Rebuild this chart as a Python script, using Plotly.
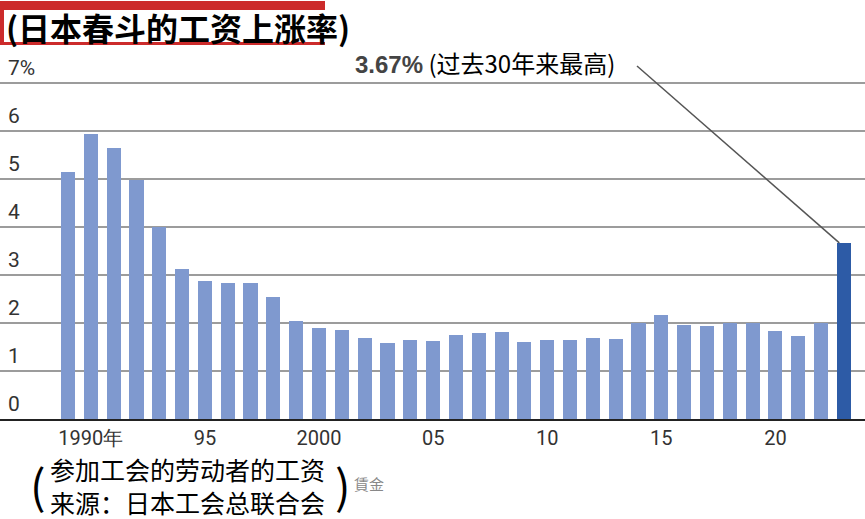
import plotly.graph_objects as go

# Shunto wage increase rate
years = list(range(1989, 2024))
rates = [5.14, 5.94, 5.65, 4.98, 4.0, 3.13, 2.87, 2.84, 2.84, 2.55,
         2.05, 1.89, 1.86, 1.68, 1.58, 1.64, 1.62, 1.75, 1.80, 1.82,
         1.61, 1.64, 1.64, 1.69, 1.66, 2.00, 2.17, 1.95, 1.93, 2.00,
         2.00, 1.84, 1.73, 2.01, 3.67]
tick_years = [1990, 1995, 2000, 2005, 2010, 2015, 2020]
tick_text = ['1990年', '95', '2000', '05', '10', '15', '20']
y_ticks = [0, 1, 2, 3, 4, 5, 6, 7]

W, H = 865, 519
top, base = 40, 419          # plot area in pixels
px_per_unit = 48
x_lo = years[0] - 68 / 22.82
x_hi = x_lo + W / 22.82


def py(p):
    # pixel row -> paper y
    return (base - p) / (base - top)


light = '#7f99cf'
dark = '#2d5ba6'
colors = [light] * (len(years) - 1) + [dark]

fig = go.Figure(go.Bar(x=years, y=rates, marker_color=colors,
                       marker_line_width=0, width=0.62))

narrow = 'Roboto, sans-serif'
cjk = 'Noto Sans CJK SC, sans-serif'

annotations = []
for v in y_ticks:
    annotations.append(dict(x=0.007, xref='paper', y=v, yref='y', xanchor='left',
                            yanchor='bottom', yshift=1, showarrow=False,
                            text='7%' if v == 7 else str(v),
                            font=dict(family=narrow, size=21, color='#333')))

annotations += [
    dict(x=4 / W, xref='paper', y=py(27), yref='paper', xanchor='left', yanchor='middle',
         showarrow=False, text='(日本春斗的工资上涨率)',
         font=dict(family=cjk, size=32, color='#000', weight='bold')),
    dict(x=353 / W, xref='paper', y=py(62), yref='paper', xanchor='left', yanchor='middle',
         showarrow=False,
         text="<b><span style='font-family:Arial;color:#444'>3.67%</span></b> (过去30年来最高)",
         font=dict(family=cjk, size=24, color='#000')),
    dict(x=48 / W, xref='paper', y=py(485), yref='paper', xanchor='left', yanchor='middle',
         showarrow=False, align='left',
         text='参加工会的劳动者的工资<br>来源：日本工会总联合会',
         font=dict(family=cjk, size=25, color='#000')),
    dict(x=28 / W, xref='paper', y=py(484), yref='paper', xanchor='left', yanchor='middle',
         showarrow=False, text='(', font=dict(family=cjk, size=46, color='#000')),
    dict(x=333 / W, xref='paper', y=py(484), yref='paper', xanchor='left', yanchor='middle',
         showarrow=False, text=')', font=dict(family=cjk, size=46, color='#000')),
    dict(x=352 / W, xref='paper', y=py(483), yref='paper', xanchor='left', yanchor='middle',
         showarrow=False, text='賃金', font=dict(family=cjk, size=15, color='#888')),
]

shapes = [
    dict(type='rect', xref='paper', yref='paper', x0=0, x1=325 / W, y0=py(45), y1=py(1),
         fillcolor='#cc2b2b', line_width=0, layer='above'),
    dict(type='rect', xref='paper', yref='paper', x0=4 / W, x1=352 / W, y0=py(42), y1=py(10),
         fillcolor='white', line_width=0, layer='above'),
    dict(type='line', xref='x', yref='y', x0=x_lo + 637 / 22.82, y0=(base - 66) / px_per_unit,
         x1=years[-1] - 0.2, y1=rates[-1], line=dict(color='#555', width=1.5)),
]

fig.update_layout(
    width=W, height=H,
    margin=dict(l=0, r=0, t=top, b=H - base),
    paper_bgcolor='white', plot_bgcolor='white',
    showlegend=False, bargap=0,
    xaxis=dict(range=[x_lo, x_hi], tickvals=tick_years, ticktext=tick_text,
               showgrid=False, zeroline=False, showline=True, linecolor='#222',
               linewidth=2, ticks='', ticklabelstandoff=0,
               tickfont=dict(family=narrow, size=20, color='#333')),
    yaxis=dict(range=[0, (base - top) / px_per_unit], dtick=1, showticklabels=False,
               showgrid=True, gridcolor='#9c9c9c', gridwidth=2, zeroline=False),
    annotations=annotations,
    shapes=shapes,
)

fig.write_html("out.html", config={'displayModeBar': False},
               post_script="document.body.style.margin='0';")
